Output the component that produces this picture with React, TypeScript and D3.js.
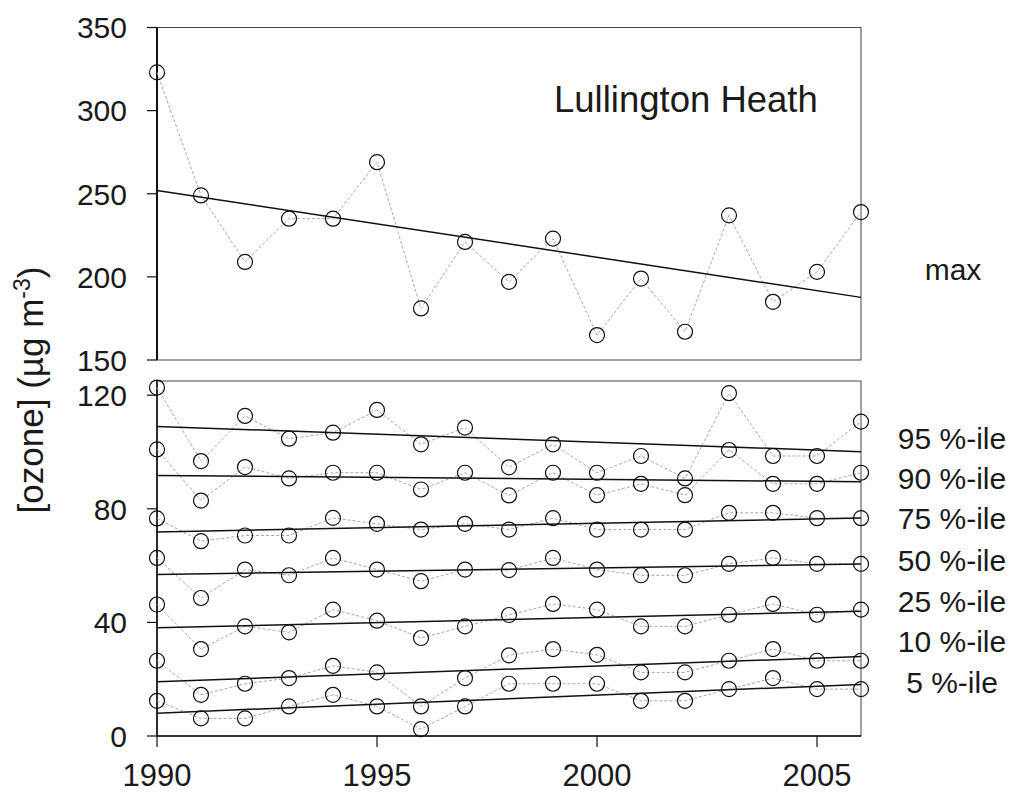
import React from "react";
import * as d3 from "d3";

const years = [1990, 1991, 1992, 1993, 1994, 1995, 1996, 1997, 1998, 1999, 2000, 2001, 2002, 2003, 2004, 2005, 2006];

const maxValues = [323, 249, 209, 235, 235, 269, 181, 221, 197, 223, 165, 199, 167, 237, 185, 203, 239];

const p95 = [122.7, 96.8, 112.7, 104.7, 106.8, 114.8, 102.7, 108.6, 94.6, 102.7, 92.7, 98.6, 90.7, 120.7, 98.6, 98.6, 110.7];
const p90 = [100.9, 82.9, 94.7, 90.7, 92.7, 92.7, 86.8, 92.7, 84.7, 92.7, 84.8, 88.8, 84.8, 100.7, 88.8, 88.8, 92.7];
const p75 = [76.6, 68.6, 70.6, 70.6, 76.8, 74.7, 72.7, 74.7, 72.7, 76.7, 72.7, 72.7, 72.7, 78.6, 78.6, 76.7, 76.7];
const p50 = [62.7, 48.6, 58.6, 56.6, 62.7, 58.6, 54.5, 58.6, 58.4, 62.7, 58.6, 56.6, 56.6, 60.6, 62.7, 60.6, 60.6];
const p25 = [46.3, 30.6, 38.6, 36.5, 44.5, 40.6, 34.5, 38.6, 42.6, 46.5, 44.5, 38.6, 38.6, 42.7, 46.5, 42.7, 44.5];
const p10 = [26.5, 14.5, 18.4, 20.4, 24.7, 22.4, 10.4, 20.4, 28.4, 30.6, 28.6, 22.4, 22.4, 26.5, 30.6, 26.5, 26.5];
const p05 = [12.4, 6.2, 6.2, 10.4, 14.5, 10.4, 2.4, 10.4, 18.4, 18.4, 18.4, 12.4, 12.4, 16.5, 20.4, 16.5, 16.5];

const percentileSeries = [p95, p90, p75, p50, p25, p10, p05];
const percentileLabels = ["95 %-ile", "90 %-ile", "75 %-ile", "50 %-ile", "25 %-ile", "10 %-ile", "5 %-ile"];

const topTicks = [150, 200, 250, 300, 350];
const bottomTicks = [0, 40, 80, 120];
const xTicks = [1990, 1995, 2000, 2005];

const FONT = "'Liberation Sans', Arial, Helvetica, sans-serif";

function regression(xs: number[], ys: number[]) {
  const mx = d3.mean(xs) as number;
  const my = d3.mean(ys) as number;
  let num = 0;
  let den = 0;
  xs.forEach((x, i) => {
    num += (x - mx) * (ys[i] - my);
    den += (x - mx) * (x - mx);
  });
  const slope = num / den;
  return (x: number) => my + slope * (x - mx);
}

function Series({ values, x, y }: { values: number[]; x: d3.ScaleLinear<number, number>; y: d3.ScaleLinear<number, number> }) {
  const line = d3
    .line<number>()
    .x((_, i) => x(years[i]))
    .y((d) => y(d));
  const fit = regression(years, values);
  const x0 = years[0];
  const x1 = years[years.length - 1];
  return (
    <g>
      <path d={line(values) || ""} fill="none" stroke="#a8a8a8" strokeWidth={1} strokeDasharray="3,2" />
      <line x1={x(x0)} y1={y(fit(x0))} x2={x(x1)} y2={y(fit(x1))} stroke="#111" strokeWidth={1.5} />
      {values.map((v, i) => (
        <circle key={i} cx={x(years[i])} cy={y(v)} r={7.5} fill="none" stroke="#111" strokeWidth={1.2} />
      ))}
    </g>
  );
}

export default function App() {
  const x = d3.scaleLinear().domain([1990, 2006]).range([157, 861]);
  const yTop = d3.scaleLinear().domain([150, 350]).range([360, 27.5]);
  const yBot = d3.scaleLinear().domain([0, 125]).range([736, 381]);

  const left = x(1990);
  const right = x(2006);

  return (
    <svg
      width={1010}
      height={798}
      style={{ position: "absolute", left: 0, top: 0, background: "#fff" }}
      fontFamily={FONT}
    >
      <rect x={0} y={0} width={1010} height={798} fill="#fff" />

      {/* top panel frame */}
      <rect x={left} y={yTop(350)} width={right - left} height={yTop(150) - yTop(350)} fill="none" stroke="#444" strokeWidth={1} />
      <line x1={left} y1={yTop(350)} x2={left} y2={yTop(150)} stroke="#111" strokeWidth={2} />
      {topTicks.map((t) => (
        <g key={t}>
          <line x1={left - 10} x2={left} y1={yTop(t)} y2={yTop(t)} stroke="#111" strokeWidth={1.2} />
          <text x={left - 30} y={yTop(t)} dy="0.36em" textAnchor="end" fontSize={30} fill="#1a1a1a">
            {t}
          </text>
        </g>
      ))}
      <Series values={maxValues} x={x} y={yTop} />
      <text x={554} y={112} fontSize={36.5} fill="#1a1a1a">
        Lullington Heath
      </text>
      <text x={953} y={280} textAnchor="middle" fontSize={30} fill="#1a1a1a">
        max
      </text>

      {/* bottom panel frame */}
      <rect x={left} y={yBot(125)} width={right - left} height={yBot(0) - yBot(125)} fill="none" stroke="#444" strokeWidth={1} />
      <line x1={left} y1={yBot(125)} x2={left} y2={yBot(0)} stroke="#111" strokeWidth={1.6} />
      <line x1={left} y1={yBot(0)} x2={right} y2={yBot(0)} stroke="#111" strokeWidth={1.6} />
      {bottomTicks.map((t) => (
        <g key={t}>
          <line x1={left - 10} x2={left} y1={yBot(t)} y2={yBot(t)} stroke="#111" strokeWidth={1.2} />
          <text x={left - 30} y={yBot(t)} dy="0.36em" textAnchor="end" fontSize={30} fill="#1a1a1a">
            {t}
          </text>
        </g>
      ))}
      {xTicks.map((t) => (
        <g key={t}>
          <line x1={x(t)} x2={x(t)} y1={yBot(0)} y2={yBot(0) + 11} stroke="#111" strokeWidth={1.2} />
          <text x={x(t)} y={786} textAnchor="middle" fontSize={31} fill="#1a1a1a">
            {t}
          </text>
        </g>
      ))}
      {percentileSeries.map((s, i) => (
        <Series key={i} values={s} x={x} y={yBot} />
      ))}
      {percentileLabels.map((lab, i) => (
        <text key={lab} x={952} y={[449, 489, 529, 571, 612, 652, 693][i]} textAnchor="middle" fontSize={30} fill="#1a1a1a">
          {lab}
        </text>
      ))}

      {/* y axis title */}
      <text transform="translate(43,390) rotate(-90)" textAnchor="middle" fontSize={35} fill="#1a1a1a">
        [ozone] (µg m<tspan dy="-13" fontSize={23}>-3</tspan>
        <tspan dy="13">)</tspan>
      </text>
    </svg>
  );
}
